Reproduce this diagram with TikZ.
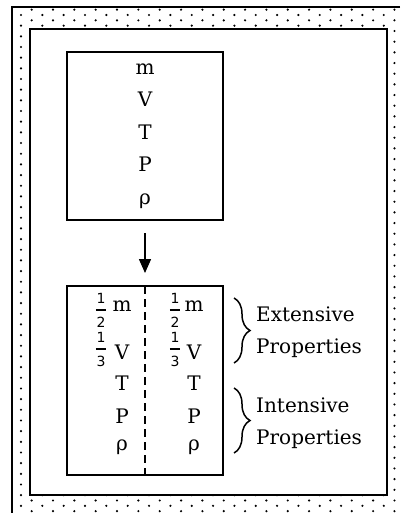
\documentclass[tikz,border=0pt]{standalone}
\usepackage{fontspec}
\setmainfont{DejaVu Serif}
\newfontfamily\numfont{DejaVu Sans}
\usetikzlibrary{arrows.meta}
\usetikzlibrary{decorations.pathreplacing}
\tikzset{
	proptext/.style = {font=\fontsize{20}{32.5}\selectfont, inner sep=0pt},
	prop_box/.style = {proptext, rectangle, align=center, draw=black,
		line width=2pt, minimum width=156pt, outer sep=0pt},% boite des proprietes
	prop_frac/.style = {font=\numfont\fontsize{14}{24}\selectfont, align=center,
		inner ysep=0pt, inner xsep=0.5pt},% fraction 1/n
	prop_brace/.style = {decorate, decoration={brace, amplitude=16pt},
		line width=1.5pt},% accolade
	prop_lbl/.style = {proptext, align=left, anchor=west}% nom du groupe
}
\begin{document}
\begin{tikzpicture}[x=1pt, y=-1pt]
	\useasboundingbox (0,0) rectangle (400,513);
	% fond pointille
	\begin{scope}
		\clip (12,7) rectangle (400,513);
		\foreach \i in {0,...,35}
			\foreach \j in {0,...,47}
				\fill ({21+10.67*\i}, {15+10.67*\j-5.33*mod(\i,2)}) circle (1.2pt);
	\end{scope}
	\fill[white] (30,29) rectangle (387,495);
	\draw[line width=2pt] (30,29) rectangle (387,495);
	\draw[line width=2pt] (400,7) -- (12,7) -- (12,513);
	% systeme entier et systeme coupe
	\node[prop_box, minimum height=168pt] (whole) at (145,136) {m\\V\\T\\P\\ρ};
	\node[prop_box, minimum height=189pt] (split) at (145,380.5) {};
	\draw[line width=2pt, dash pattern=on 8pt off 5pt] (split.north) -- (split.south);
	\draw[-{Triangle[length=14pt,width=12pt]}, line width=1.5pt,
		shorten <=13pt, shorten >=13pt] (whole.south) -- (split.north);
	\foreach \p/\y/\n in {m/306/m, V/352/V, T/383/T, P/416/P, ρ/447/r} {
		\node[proptext] (l\n) at (122,\y) {\p};
		\node[proptext] (r\n) at (194,\y) {\p};
	}
	\foreach \f/\y/\n in {2/310/m, 3/349/V} {
		\node[prop_frac] (lf\n) at (101,\y) {1\\\f};
		\node[prop_frac] (rf\n) at (175,\y) {1\\\f};
		\draw[line width=1.3pt] (lf\n.west) -- (lf\n.east);
		\draw[line width=1.3pt] (rf\n.west) -- (rf\n.east);
	}
	% accolades
	\draw[prop_brace] (234,298) -- (234,363);
	\draw[prop_brace] (234,388) -- (234,453);
	\node[prop_lbl] (ext) at (256,332) {Extensive\\Properties};
	\node[prop_lbl] (int) at (256,423) {Intensive\\Properties};
\end{tikzpicture}
\end{document}
